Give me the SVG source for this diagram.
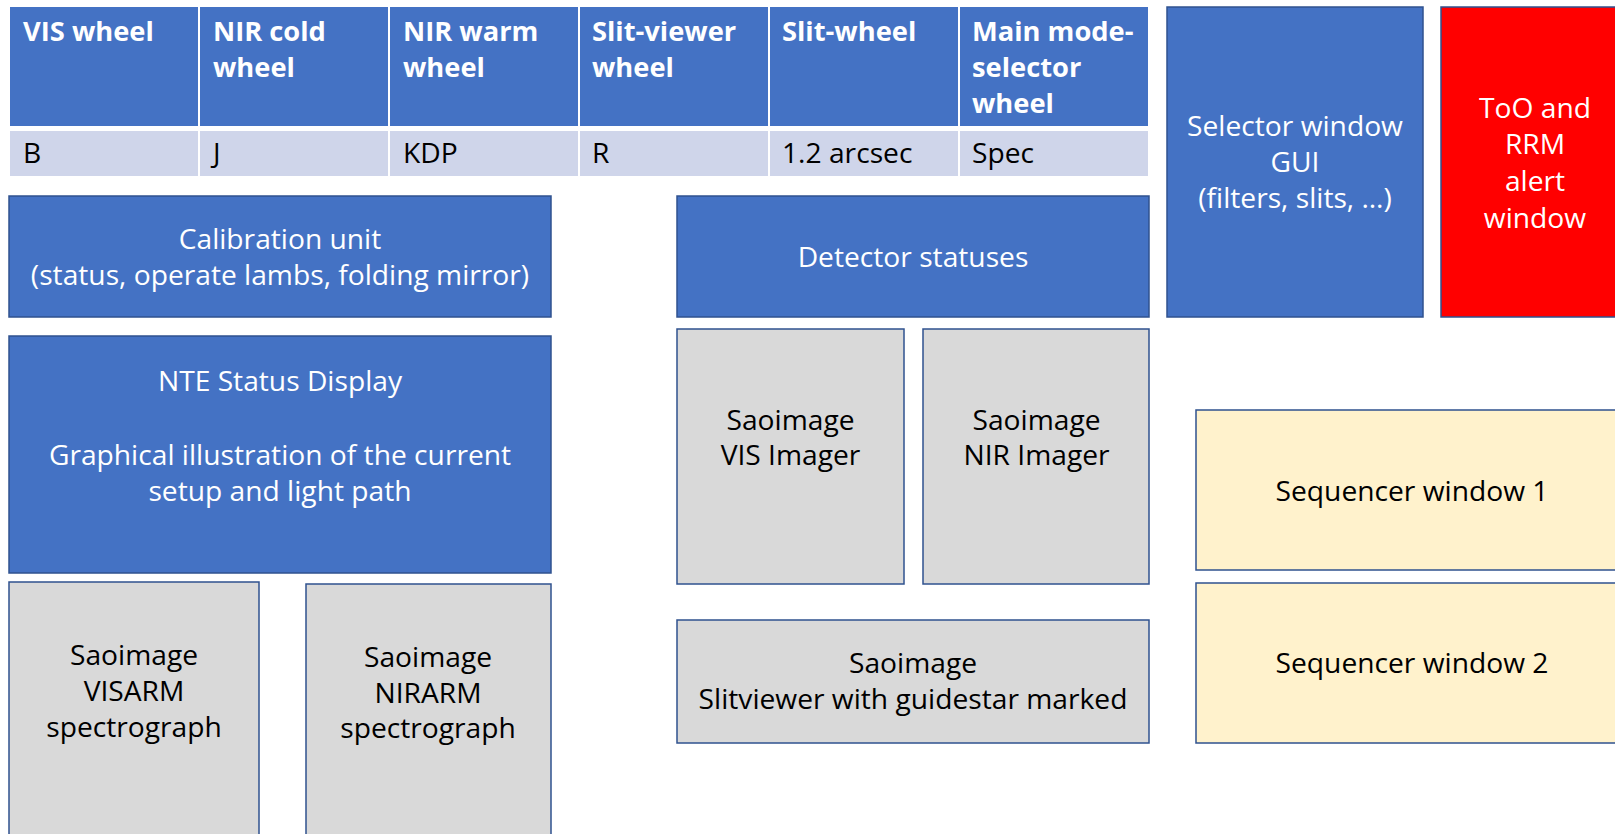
<svg xmlns="http://www.w3.org/2000/svg" width="1615" height="834" viewBox="0 0 1615 834">
  <style>
    .hdr { fill: #4472C4; }
    .row { fill: #CFD5EA; }
    .blue { fill: #4472C4; stroke: #2F528F; stroke-width: 1.5; }
    .gray { fill: #D9D9D9; stroke: #2F528F; stroke-width: 1.5; }
    .yel { fill: #FFF2CC; stroke: #2F528F; stroke-width: 1.5; }
    .red { fill: #FF0000; stroke: #2F528F; stroke-width: 1.5; }
    text { font-family: "Open Sans", "Noto Sans", sans-serif; font-size: 28.2px; }
    .th { font-weight: bold; fill: #FFFFFF; font-size: 27.3px; }
    .td { fill: #000000; }
    .w { fill: #FFFFFF; text-anchor: middle; }
    .k { fill: #000000; text-anchor: middle; }
  </style>
  <rect width="1615" height="834" fill="#FFFFFF"/>

  <!-- Wheel status table -->
  <g id="wheel-table">
    <rect class="hdr" x="10" y="7" width="188" height="119"/>
    <rect class="hdr" x="200" y="7" width="188" height="119"/>
    <rect class="hdr" x="390" y="7" width="188" height="119"/>
    <rect class="hdr" x="580" y="7" width="188" height="119"/>
    <rect class="hdr" x="770" y="7" width="188" height="119"/>
    <rect class="hdr" x="960" y="7" width="188" height="119"/>
    <rect class="row" x="10" y="131" width="188" height="45"/>
    <rect class="row" x="200" y="131" width="188" height="45"/>
    <rect class="row" x="390" y="131" width="188" height="45"/>
    <rect class="row" x="580" y="131" width="188" height="45"/>
    <rect class="row" x="770" y="131" width="188" height="45"/>
    <rect class="row" x="960" y="131" width="188" height="45"/>
    <text class="th" x="23" y="41">VIS wheel</text>
    <text class="th" x="213" y="41">NIR cold<tspan x="213" y="77">wheel</tspan></text>
    <text class="th" x="403" y="41">NIR warm<tspan x="403" y="77">wheel</tspan></text>
    <text class="th" x="592" y="41">Slit-viewer<tspan x="592" y="77">wheel</tspan></text>
    <text class="th" x="782" y="41">Slit-wheel</text>
    <text class="th" x="972" y="41">Main mode-<tspan x="972" y="77">selector</tspan><tspan x="972" y="113">wheel</tspan></text>
    <text class="td" x="23" y="163">B</text>
    <text class="td" x="213" y="163">J</text>
    <text class="td" x="403" y="163">KDP</text>
    <text class="td" x="592" y="163">R</text>
    <text class="td" x="782" y="163">1.2 arcsec</text>
    <text class="td" x="972" y="163">Spec</text>
  </g>

  <g id="selector-window">
    <rect class="blue" x="1167" y="7" width="256" height="310"/>
    <text class="w" x="1295" y="136">Selector window</text>
    <text class="w" x="1295" y="172">GUI</text>
    <text class="w" x="1295" y="208">(filters, slits, …)</text>
  </g>

  <g id="alert-window">
    <rect class="red" x="1441" y="7" width="190" height="310"/>
    <text class="w" x="1535" y="118">ToO and</text>
    <text class="w" x="1535" y="154">RRM</text>
    <text class="w" x="1535" y="191">alert</text>
    <text class="w" x="1535" y="228">window</text>
  </g>

  <g id="calibration-unit">
    <rect class="blue" x="9" y="196" width="542" height="121"/>
    <text class="w" x="280" y="249">Calibration unit</text>
    <text class="w" x="280" y="285">(status, operate lambs, folding mirror)</text>
  </g>

  <g id="detector-statuses">
    <rect class="blue" x="677" y="196" width="472" height="121"/>
    <text class="w" x="913" y="267">Detector statuses</text>
  </g>

  <g id="status-display">
    <rect class="blue" x="9" y="336" width="542" height="237"/>
    <text class="w" x="280" y="391">NTE Status Display</text>
    <text class="w" x="280" y="465">Graphical illustration of the current</text>
    <text class="w" x="280" y="501">setup and light path</text>
  </g>

  <g id="visarm-display">
    <rect class="gray" x="9" y="582" width="250" height="270"/>
    <text class="k" x="134" y="665">Saoimage</text>
    <text class="k" x="134" y="701">VISARM</text>
    <text class="k" x="134" y="737">spectrograph</text>
  </g>

  <g id="nirarm-display">
    <rect class="gray" x="306" y="584" width="245" height="270"/>
    <text class="k" x="428" y="667">Saoimage</text>
    <text class="k" x="428" y="703">NIRARM</text>
    <text class="k" x="428" y="738">spectrograph</text>
  </g>

  <g id="vis-imager-display">
    <rect class="gray" x="677" y="329" width="227" height="255"/>
    <text class="k" x="790.5" y="430">Saoimage</text>
    <text class="k" x="790.5" y="465">VIS Imager</text>
  </g>

  <g id="nir-imager-display">
    <rect class="gray" x="923" y="329" width="226" height="255"/>
    <text class="k" x="1036.5" y="430">Saoimage</text>
    <text class="k" x="1036.5" y="465">NIR Imager</text>
  </g>

  <g id="slitviewer-display">
    <rect class="gray" x="677" y="620" width="472" height="123"/>
    <text class="k" x="913" y="673">Saoimage</text>
    <text class="k" x="913" y="709">Slitviewer with guidestar marked</text>
  </g>

  <g id="sequencer-1">
    <rect class="yel" x="1196" y="410" width="432" height="160"/>
    <text class="k" x="1412" y="501">Sequencer window 1</text>
  </g>

  <g id="sequencer-2">
    <rect class="yel" x="1196" y="583" width="432" height="160"/>
    <text class="k" x="1412" y="673">Sequencer window 2</text>
  </g>
</svg>
